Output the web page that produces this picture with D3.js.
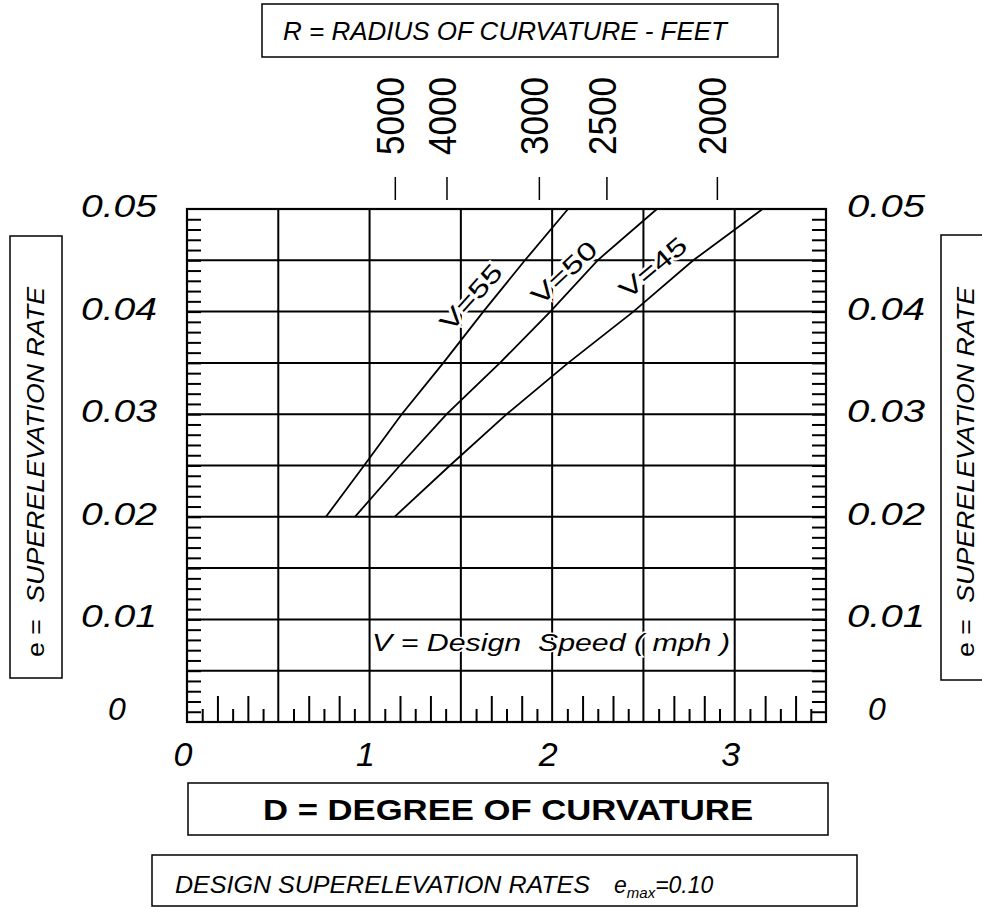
<!DOCTYPE html>
<html>
<head>
<script src="https://d3js.org/d3.v7.min.js" charset="utf-8"></script>
<style>
    body { margin: 0; background: #fff; }
    svg { display: block; font-family: "Liberation Sans", Arial, sans-serif; }
</style>
</head>
<body>
<script>
    // e levels where the curves were read, and D (degrees) for each speed
    var eLevels = [0.020, 0.025, 0.030, 0.035, 0.040, 0.045, 0.050];
    var dV55 = [0.761, 0.970, 1.176, 1.404, 1.623, 1.851, 2.087];
    var dV50 = [0.920, 1.166, 1.422, 1.714, 1.990, 2.249, 2.574];
    var dV45 = [1.137, 1.440, 1.751, 2.088, 2.445, 2.773, 3.153];
    var speeds = ["V=55", "V=50", "V=45"];
    // where each speed label sits (D, e) and its slant
    var labelAt = [[1.555, 0.0414], [2.065, 0.0438], [2.552, 0.0443]];
    var labelAngle = [-48, -43, -40];

    var xTicks = [0, 1, 2, 3];
    var yTicks = [0.05, 0.04, 0.03, 0.02, 0.01];
    var yTickText = ["0.05", "0.04", "0.03", "0.02", "0.01"];
    // radius scale along the top
    var radiusText = ["5000", "4000", "3000", "2500", "2000"];
    var radiusAtD = [1.141, 1.424, 1.930, 2.300, 2.905];

    var wid = 982, h = 907;

    var svg = d3.select("body").append("svg")
        .attr("width", wid)
        .attr("height", h);

    var x = d3.scaleLinear().domain([0, 3.5]).range([187, 826]);
    var y = d3.scaleLinear().domain([0, 0.05]).range([722, 209]);

    //grid
    svg.append("g").selectAll("line")
        .data(d3.range(1, 7).map(function(i) { return i * 0.5; }))
        .enter().append("line")
        .attr("x1", function(d) { return x(d); })
        .attr("x2", function(d) { return x(d); })
        .attr("y1", y(0)).attr("y2", y(0.05))
        .attr("stroke", "#000").attr("stroke-width", 2);

    svg.append("g").selectAll("line")
        .data(d3.range(1, 10).map(function(i) { return i * 0.005; }))
        .enter().append("line")
        .attr("y1", function(d) { return y(d); })
        .attr("y2", function(d) { return y(d); })
        .attr("x1", x(0)).attr("x2", x(3.5))
        .attr("stroke", "#000").attr("stroke-width", 2);

    // small ticks on the frame
    var eMinor = d3.range(1, 50).map(function(i) { return i / 1000; });
    var left = svg.append("g").attr("transform", "translate(" + x(0) + ",0)")
        .call(d3.axisLeft(y).tickValues(eMinor).tickSize(-14).tickFormat(""));
    var right = svg.append("g").attr("transform", "translate(" + x(3.5) + ",0)")
        .call(d3.axisRight(y).tickValues(eMinor).tickSize(-14).tickFormat(""));

    var dShort = [], dLong = [];
    for (var k = 1; k < 42; k += 1) {
        if (k % 6 == 0) continue;
        if (k % 2 == 1) dShort.push(k / 12); else dLong.push(k / 12);
    }
    var bot1 = svg.append("g").attr("transform", "translate(0," + y(0) + ")")
        .call(d3.axisBottom(x).tickValues(dShort).tickSize(-13).tickFormat(""));
    var bot2 = svg.append("g").attr("transform", "translate(0," + y(0) + ")")
        .call(d3.axisBottom(x).tickValues(dLong).tickSize(-26).tickFormat(""));
    [left, right, bot1, bot2].forEach(function(g) {
        g.selectAll(".domain").remove();
        g.selectAll(".tick line").attr("stroke", "#000").attr("stroke-width", 2);
    });

    // frame
    svg.append("rect")
        .attr("x", x(0)).attr("y", y(0.05))
        .attr("width", x(3.5) - x(0)).attr("height", y(0) - y(0.05))
        .attr("fill", "none").attr("stroke", "#000").attr("stroke-width", 2.2);

    // curves
    var line = d3.line()
        .x(function(d) { return x(d[0]); })
        .y(function(d) { return y(d[1]); });
    var series = [dV55, dV50, dV45].map(function(ds) {
        return ds.map(function(d, i) { return [d, eLevels[i]]; });
    });
    svg.append("g").selectAll("path")
        .data(series)
        .enter().append("path")
        .attr("d", line)
        .attr("fill", "none")
        .attr("stroke", "#000")
        .attr("stroke-width", 1.8);

    svg.append("g").selectAll("text")
        .data(speeds)
        .enter().append("text")
        .attr("transform", function(d, i) {
            return "translate(" + x(labelAt[i][0]) + "," + y(labelAt[i][1]) + ") rotate(" + labelAngle[i] + ")";
        })
        .attr("text-anchor", "middle")
        .attr("dy", "0.35em")
        .attr("font-size", 25)
        .attr("textLength", 80)
        .attr("lengthAdjust", "spacingAndGlyphs")
        .attr("fill", "#000")
        .attr("stroke", "#fff").attr("stroke-width", 5)
        .attr("paint-order", "stroke")
        .text(function(d) { return d; });

    svg.append("text")
        .attr("x", 372).attr("y", 651)
        .attr("font-size", 24)
        .attr("font-style", "italic")
        .attr("textLength", 358)
        .attr("lengthAdjust", "spacingAndGlyphs")
        .attr("stroke", "#fff").attr("stroke-width", 3)
        .attr("paint-order", "stroke")
        .text("V = Design  Speed ( mph )")
        .attr("xml:space", "preserve");

    // e axis numbers, both sides
    svg.append("g").selectAll("text")
        .data(yTicks)
        .enter().append("text")
        .attr("x", 157)
        .attr("y", function(d) { return y(d) + 8; })
        .attr("text-anchor", "end")
        .attr("font-size", 32).attr("font-style", "italic")
        .attr("textLength", 76).attr("lengthAdjust", "spacingAndGlyphs")
        .text(function(d, i) { return yTickText[i]; });
    svg.append("g").selectAll("text")
        .data(yTicks)
        .enter().append("text")
        .attr("x", 847)
        .attr("y", function(d) { return y(d) + 8; })
        .attr("font-size", 32).attr("font-style", "italic")
        .attr("textLength", 78).attr("lengthAdjust", "spacingAndGlyphs")
        .text(function(d, i) { return yTickText[i]; });
    svg.append("text").attr("x", 117).attr("y", y(0) - 2)
        .attr("text-anchor", "middle").attr("font-size", 32).attr("font-style", "italic").text("0");
    svg.append("text").attr("x", 877).attr("y", y(0) - 2)
        .attr("text-anchor", "middle").attr("font-size", 32).attr("font-style", "italic").text("0");

    // D axis numbers
    svg.append("g").selectAll("text")
        .data(xTicks)
        .enter().append("text")
        .attr("x", function(d) { return x(d) - 4; })
        .attr("y", 766)
        .attr("text-anchor", "middle")
        .attr("font-size", 34).attr("font-style", "italic")
        .text(function(d) { return d; });

    // radius scale
    svg.append("g").selectAll("line")
        .data(radiusAtD)
        .enter().append("line")
        .attr("x1", function(d) { return x(d); })
        .attr("x2", function(d) { return x(d); })
        .attr("y1", 177).attr("y2", 200)
        .attr("stroke", "#000").attr("stroke-width", 1.5);
    svg.append("g").selectAll("text")
        .data(radiusAtD)
        .enter().append("text")
        .attr("transform", function(d) { return "translate(" + (x(d) + 9) + ",116) rotate(-90)"; })
        .attr("text-anchor", "middle")
        .attr("font-size", 38)
        .attr("textLength", 78).attr("lengthAdjust", "spacingAndGlyphs")
        .text(function(d, i) { return radiusText[i]; });

    // boxed titles
    function box(x0, y0, w0, h0) {
        svg.append("rect").attr("x", x0).attr("y", y0).attr("width", w0).attr("height", h0)
            .attr("fill", "none").attr("stroke", "#000").attr("stroke-width", 1.5);
    }

    box(262, 4, 516, 53);
    svg.append("text").attr("x", 283).attr("y", 40)
        .attr("font-size", 25).attr("font-style", "italic")
        .attr("textLength", 444).attr("lengthAdjust", "spacingAndGlyphs")
        .text("R = RADIUS OF CURVATURE - FEET");

    box(10, 236, 52, 442);
    box(941, 235, 60, 445);
    [36, 966].forEach(function(cx) {
        var t = svg.append("text")
            .attr("transform", "translate(" + (cx + 8) + ",472) rotate(-90)")
            .attr("text-anchor", "middle")
            .attr("font-size", 23)
            .attr("textLength", 370).attr("lengthAdjust", "spacingAndGlyphs");
        t.append("tspan").text("e =");
        t.append("tspan").attr("dx", 14).attr("font-style", "italic").text("SUPERELEVATION RATE");
    });

    box(188, 783, 640, 52);
    svg.append("text").attr("x", 508).attr("y", 820)
        .attr("text-anchor", "middle")
        .attr("font-size", 30).attr("font-weight", "bold")
        .attr("textLength", 490).attr("lengthAdjust", "spacingAndGlyphs")
        .text("D = DEGREE OF CURVATURE");

    box(152, 855, 705, 51);
    svg.append("text").attr("x", 175).attr("y", 893)
        .attr("font-size", 23).attr("font-style", "italic")
        .attr("textLength", 415).attr("lengthAdjust", "spacingAndGlyphs")
        .text("DESIGN SUPERELEVATION RATES");
    var em = svg.append("text").attr("x", 614).attr("y", 893)
        .attr("font-size", 23).attr("font-style", "italic");
    em.append("tspan").text("e");
    em.append("tspan").attr("font-size", 15).attr("dy", 5).text("max");
    em.append("tspan").attr("dy", -5).text("=0.10");
</script>
</body>
</html>
